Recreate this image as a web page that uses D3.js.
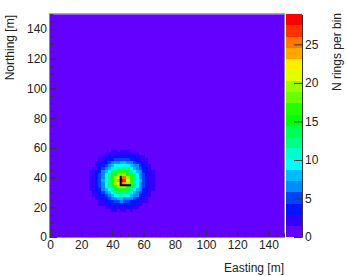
<!DOCTYPE html>
<html>
<head>
<meta charset="utf-8">
<script src="https://cdn.jsdelivr.net/npm/d3@7"></script>
<style>
  html, body { margin: 0; padding: 0; background: #fff; }
  svg { display: block; font-family: "Liberation Sans", Arial, sans-serif; }
</style>
</head>
<body>
<div id="chart"></div>
<script>
// histogram range and binning of the blob window (2 m bins)
var xRange = [0, 150];
var yRange = [0, 150];
var zRange = [0, 28.9];
var nContours = 20;
var gridX0 = 23, gridY0 = 15, binSize = 2;
var emptyCount = 0;

// N rings per bin, rows from y = 15 m upwards, columns from x = 23 m
var counts = [
  [0,0,0,0,0,0,0,0,0,1,1,1,1,1,0,0,0,0,0,0,0,0,0,0],
  [0,0,0,0,0,0,1,1,2,2,1,2,2,1,2,1,1,0,0,0,0,0,0,0],
  [0,0,0,0,0,1,2,2,2,3,2,2,2,3,2,2,2,1,0,0,0,0,0,0],
  [0,0,0,1,2,2,2,3,3,3,4,3,3,4,3,3,2,2,1,1,0,0,0,0],
  [0,0,1,1,2,2,3,4,4,5,5,6,5,5,4,4,3,2,2,2,1,0,0,0],
  [0,1,1,2,2,3,4,5,6,7,8,8,7,7,6,5,4,3,2,2,1,1,0,0],
  [0,1,2,2,3,4,5,7,8,9,10,11,10,9,8,7,6,4,3,2,2,1,0,0],
  [0,1,2,2,3,5,7,8,10,12,12,13,12,12,10,8,7,5,3,2,2,1,0,0],
  [1,2,2,3,4,6,8,10,12,14,16,16,16,14,12,10,8,6,4,3,2,2,1,0],
  [1,2,2,3,5,7,9,12,14,17,19,20,19,17,14,12,9,7,5,3,2,2,1,0],
  [1,2,2,3,5,7,10,12,16,19,23,25,24,20,16,12,10,7,5,3,2,2,1,0],
  [1,2,2,3,5,8,10,13,16,20,24,28,27,22,16,13,10,8,5,3,2,2,1,0],
  [1,2,2,3,5,7,10,12,16,19,23,26,25,20,16,12,10,7,5,3,2,2,1,0],
  [1,2,2,3,5,7,9,12,14,17,19,20,19,17,14,12,9,7,5,3,2,2,1,0],
  [0,2,2,3,4,6,8,10,12,14,16,16,16,14,12,10,8,6,4,3,2,2,0,0],
  [0,1,2,2,3,5,7,8,10,11,12,13,12,12,10,8,7,5,3,3,2,1,0,0],
  [0,1,1,2,3,4,5,7,8,9,10,10,10,9,8,7,6,4,3,2,2,1,0,0],
  [0,0,1,2,2,3,4,5,6,7,7,8,8,7,6,5,4,3,2,2,1,1,0,0],
  [0,0,1,1,2,2,3,3,4,5,5,5,5,5,4,4,3,2,2,2,1,0,0,0],
  [0,0,0,1,2,2,2,3,3,3,3,3,4,3,3,3,2,2,2,1,0,0,0,0],
  [0,0,0,0,1,1,2,2,2,2,2,2,2,2,2,2,2,1,1,0,0,0,0,0],
  [0,0,0,0,0,0,1,1,2,2,1,2,2,2,1,1,1,0,0,0,0,0,0,0],
  [0,0,0,0,0,0,0,0,0,1,1,1,1,1,0,0,0,0,0,0,0,0,0,0],
  [0,0,0,0,0,0,0,0,0,0,0,0,0,0,0,0,0,0,0,0,0,0,0,0]
];

// black marker drawn over the peak
var markX = [45.3, 45.3, 52];
var markY = [41.3, 34.8, 34.8];

var xTicks = [0, 20, 40, 60, 80, 100, 120, 140];
var yTicks = [0, 20, 40, 60, 80, 100, 120, 140];
var zTicks = [0, 5, 10, 15, 20, 25];

var width = 346, height = 276;
var svg = d3.select("#chart").append("svg")
  .attr("width", width)
  .attr("height", height);

var x = d3.scaleLinear().domain(xRange).range([50, 284]);
var y = d3.scaleLinear().domain(yRange).range([237, 14.3]);
var z = d3.scaleLinear().domain(zRange).range([237, 14.3]);

// ROOT "pretty" palette: 50 hues violet -> red, 20 contour levels
function paletteColor(k) {
  if (k >= 49) return "rgb(255,0,0)";
  return d3.hsl(280 - (k + 1) * 5.6, 1, 0.5).toString();
}
function bandColor(i) {
  return paletteColor(Math.floor((i + 0.99) * 50 / nContours));
}
var dz = (zRange[1] - zRange[0]) / nContours;
function countColor(v) {
  var i = Math.floor((v - zRange[0]) / dz);
  i = Math.max(0, Math.min(nContours - 1, i));
  return bandColor(i);
}

// empty bins of the histogram
svg.append("rect")
  .attr("x", x(xRange[0]))
  .attr("y", y(yRange[1]))
  .attr("width", x(xRange[1]) - x(xRange[0]))
  .attr("height", y(yRange[0]) - y(yRange[1]))
  .attr("fill", countColor(emptyCount));

// bins
var cells = [];
counts.forEach(function(row, m) {
  row.forEach(function(v, k) {
    cells.push({ x0: gridX0 + k * binSize, y0: gridY0 + m * binSize, v: v });
  });
});
svg.append("g")
  .attr("shape-rendering", "crispEdges")
  .selectAll("rect")
  .data(cells)
  .enter().append("rect")
  .attr("x", function(d) { return x(d.x0); })
  .attr("y", function(d) { return y(d.y0 + binSize); })
  .attr("width", function(d) { return x(d.x0 + binSize) - x(d.x0); })
  .attr("height", function(d) { return y(d.y0) - y(d.y0 + binSize); })
  .attr("fill", function(d) { return countColor(d.v); });

// marker
svg.append("path")
  .datum(d3.zip(markX, markY))
  .attr("d", d3.line().x(function(d) { return x(d[0]); }).y(function(d) { return y(d[1]); }))
  .attr("fill", "none")
  .attr("stroke", "#000")
  .attr("stroke-width", 2);

// frame
svg.append("rect")
  .attr("x", x(xRange[0]) - 0.5)
  .attr("y", y(yRange[1]) - 0.5)
  .attr("width", x(xRange[1]) - x(xRange[0]) + 1)
  .attr("height", y(yRange[0]) - y(yRange[1]) + 1)
  .attr("fill", "none")
  .attr("stroke", "#8a8a8a")
  .attr("stroke-width", 1);

// axes (ticks inside the frame)
function styleAxis(g) {
  g.select(".domain").remove();
  g.selectAll("line").attr("stroke", "#333");
  g.selectAll("text").attr("fill", "#222").style("font-size", "12px");
}
svg.append("g")
  .attr("transform", "translate(0," + y(yRange[0]) + ")")
  .call(d3.axisBottom(x).tickValues(d3.range(0, 151, 5)).tickSize(-3.5).tickFormat(""))
  .call(styleAxis);
svg.append("g")
  .attr("transform", "translate(0," + y(yRange[0]) + ")")
  .call(d3.axisBottom(x).tickValues(xTicks).tickSize(-7).tickPadding(3).tickFormat(d3.format("d")))
  .call(styleAxis);
svg.append("g")
  .attr("transform", "translate(" + x(xRange[0]) + ",0)")
  .call(d3.axisLeft(y).tickValues(d3.range(0, 151, 5)).tickSize(-3.5).tickFormat(""))
  .call(styleAxis);
svg.append("g")
  .attr("transform", "translate(" + x(xRange[0]) + ",0)")
  .call(d3.axisLeft(y).tickValues(yTicks).tickSize(-7).tickPadding(3).tickFormat(d3.format("d")))
  .call(styleAxis);

// colour bar
var barX0 = 286, barX1 = 302;
svg.append("g")
  .attr("shape-rendering", "crispEdges")
  .selectAll("rect")
  .data(d3.range(nContours))
  .enter().append("rect")
  .attr("x", barX0)
  .attr("width", barX1 - barX0)
  .attr("y", function(i) { return z(zRange[0] + (i + 1) * dz); })
  .attr("height", function(i) { return z(zRange[0] + i * dz) - z(zRange[0] + (i + 1) * dz); })
  .attr("fill", function(i) { return bandColor(i); });

svg.append("g")
  .attr("transform", "translate(" + barX1 + ",0)")
  .call(d3.axisRight(z).tickValues(zTicks).tickSize(-8).tickSizeOuter(0).tickPadding(3))
  .call(function(g) {
    g.select(".domain").attr("stroke", "#333");
    g.selectAll("line").attr("stroke", "#333");
    g.selectAll("text").attr("fill", "#222").style("font-size", "12px");
  });

// titles
svg.append("text")
  .attr("x", 284)
  .attr("y", 272)
  .attr("text-anchor", "end")
  .attr("fill", "#222")
  .style("font-size", "12px")
  .text("Easting [m]");

svg.append("text")
  .attr("transform", "translate(14,15) rotate(-90)")
  .attr("text-anchor", "end")
  .attr("fill", "#222")
  .style("font-size", "12px")
  .text("Northing [m]");

svg.append("text")
  .attr("transform", "translate(341,13) rotate(-90)")
  .attr("text-anchor", "end")
  .attr("fill", "#222")
  .style("font-size", "12px")
  .text("N rings per bin");
</script>
</body>
</html>
